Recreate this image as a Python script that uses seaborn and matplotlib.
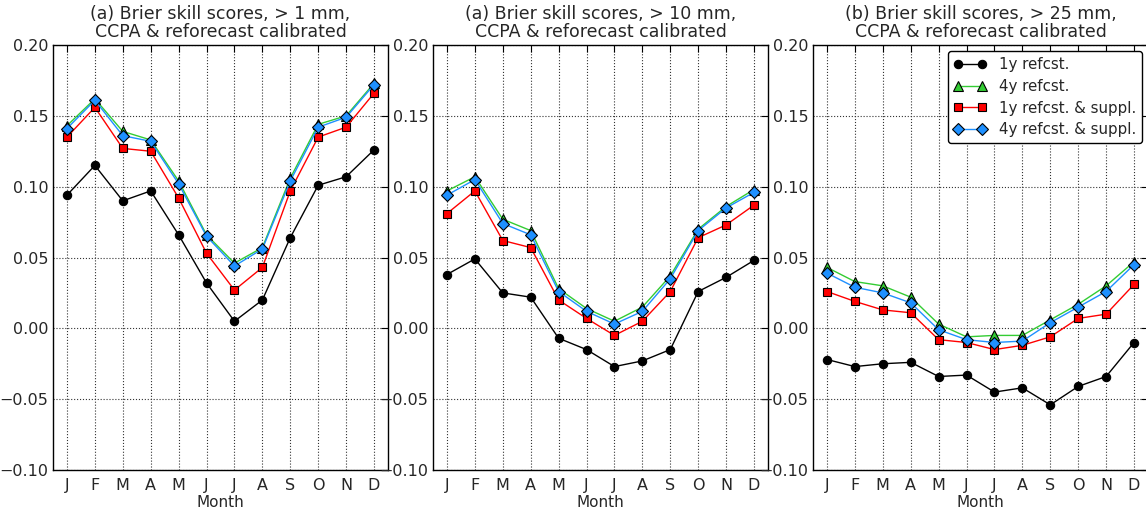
import matplotlib
matplotlib.use("Agg")
import matplotlib.pyplot as plt
import seaborn as sns
import pandas as pd
import numpy as np

months = ["J", "F", "M", "A", "M", "J", "J", "A", "S", "O", "N", "D"]
month_num = list(range(1, 13))

titles = ["(a) Brier skill scores, > 1 mm,\nCCPA & reforecast calibrated",
          "(a) Brier skill scores, > 10 mm,\nCCPA & reforecast calibrated",
          "(b) Brier skill scores, > 25 mm,\nCCPA & reforecast calibrated"]

series_names = ["1y refcst.", "4y refcst.", "1y refcst. & suppl.", "4y refcst. & suppl."]

# > 1 mm
p1_1y = [0.094, 0.115, 0.090, 0.097, 0.066, 0.032, 0.005, 0.020, 0.064, 0.101, 0.107, 0.126]
p1_4y = [0.143, 0.162, 0.139, 0.133, 0.104, 0.066, 0.046, 0.057, 0.106, 0.144, 0.150, 0.173]
p1_1ys = [0.135, 0.156, 0.127, 0.125, 0.092, 0.053, 0.027, 0.043, 0.097, 0.135, 0.142, 0.166]
p1_4ys = [0.141, 0.161, 0.136, 0.132, 0.102, 0.065, 0.044, 0.056, 0.104, 0.142, 0.149, 0.172]

# > 10 mm
p2_1y = [0.038, 0.049, 0.025, 0.022, -0.007, -0.015, -0.027, -0.023, -0.015, 0.026, 0.036, 0.048]
p2_4y = [0.097, 0.107, 0.077, 0.069, 0.028, 0.014, 0.005, 0.015, 0.037, 0.070, 0.086, 0.098]
p2_1ys = [0.081, 0.097, 0.062, 0.057, 0.020, 0.007, -0.005, 0.005, 0.026, 0.064, 0.073, 0.087]
p2_4ys = [0.094, 0.105, 0.074, 0.066, 0.026, 0.012, 0.003, 0.012, 0.035, 0.069, 0.085, 0.096]

# > 25 mm
p3_1y = [-0.022, -0.027, -0.025, -0.024, -0.034, -0.033, -0.045, -0.042, -0.054, -0.041, -0.034, -0.010]
p3_4y = [0.043, 0.033, 0.030, 0.022, 0.003, -0.006, -0.005, -0.005, 0.006, 0.017, 0.030, 0.047]
p3_1ys = [0.026, 0.019, 0.013, 0.011, -0.008, -0.010, -0.015, -0.012, -0.006, 0.007, 0.010, 0.031]
p3_4ys = [0.039, 0.029, 0.025, 0.018, -0.001, -0.008, -0.010, -0.009, 0.004, 0.015, 0.026, 0.045]

panels = [[p1_1y, p1_4y, p1_1ys, p1_4ys],
          [p2_1y, p2_4y, p2_1ys, p2_4ys],
          [p3_1y, p3_4y, p3_1ys, p3_4ys]]

styles = [dict(color="black", marker="o", markerfacecolor="black", markersize=6),
          dict(color="#33cc33", marker="^", markerfacecolor="#33cc33", markersize=6.5),
          dict(color="red", marker="s", markerfacecolor="red", markersize=5.5),
          dict(color="#1e90ff", marker="D", markerfacecolor="#1e90ff", markersize=6)]

sns.set_style("white")
plt.rcParams["font.family"] = ["DejaVu Sans"]
plt.rcParams["xtick.direction"] = "in"
plt.rcParams["ytick.direction"] = "in"

fig = plt.figure(figsize=(11.46, 5.12), dpi=100)
lefts = [53 / 1146, 433 / 1146, 813 / 1146]
width = 335 / 1146
bottom = 1 - 470 / 512
height = 425 / 512

for i, (left, data) in enumerate(zip(lefts, panels)):
    ax = fig.add_axes([left, bottom, width, height])
    for name, vals, st in zip(series_names, data, styles):
        df = pd.DataFrame({"month": month_num, "bss": vals})
        sns.lineplot(data=df, x="month", y="bss", ax=ax, label=name,
                     linewidth=1.0, markeredgecolor="black", markeredgewidth=0.8,
                     legend=False, **st)
    ax.set_xlim(0.5, 12.5)
    ax.set_ylim(-0.10, 0.20)
    ax.set_xticks(month_num)
    ax.set_xticklabels(months)
    ax.set_yticks([-0.10, -0.05, 0.0, 0.05, 0.10, 0.15, 0.20])
    ax.set_yticklabels(["\u22120.10", "\u22120.05", "0.00", "0.05", "0.10", "0.15", "0.20"])
    ax.tick_params(axis="both", which="major", labelsize=11.5, direction="in",
                   length=5, width=0.8, top=True, right=True, color="black")
    ax.tick_params(axis="x", pad=6)
    ax.grid(True, linestyle=":", color="#333333", linewidth=0.8)
    for sp in ax.spines.values():
        sp.set_color("black")
        sp.set_linewidth(1.0)
    ax.set_xlabel("Month", fontsize=11, labelpad=1)
    ax.set_ylabel("")
    ax.set_title(titles[i], fontsize=12.5, linespacing=1.0, pad=6)
    if i == 2:
        leg = ax.legend(loc="upper right", numpoints=2, fontsize=10.8,
                        frameon=True, fancybox=True, handlelength=2.2,
                        borderaxespad=0.4, labelspacing=0.45)
        leg.get_frame().set_edgecolor("black")
        leg.get_frame().set_linewidth(1.0)
        leg.get_frame().set_alpha(1.0)

fig.savefig("out.png", dpi=100)
